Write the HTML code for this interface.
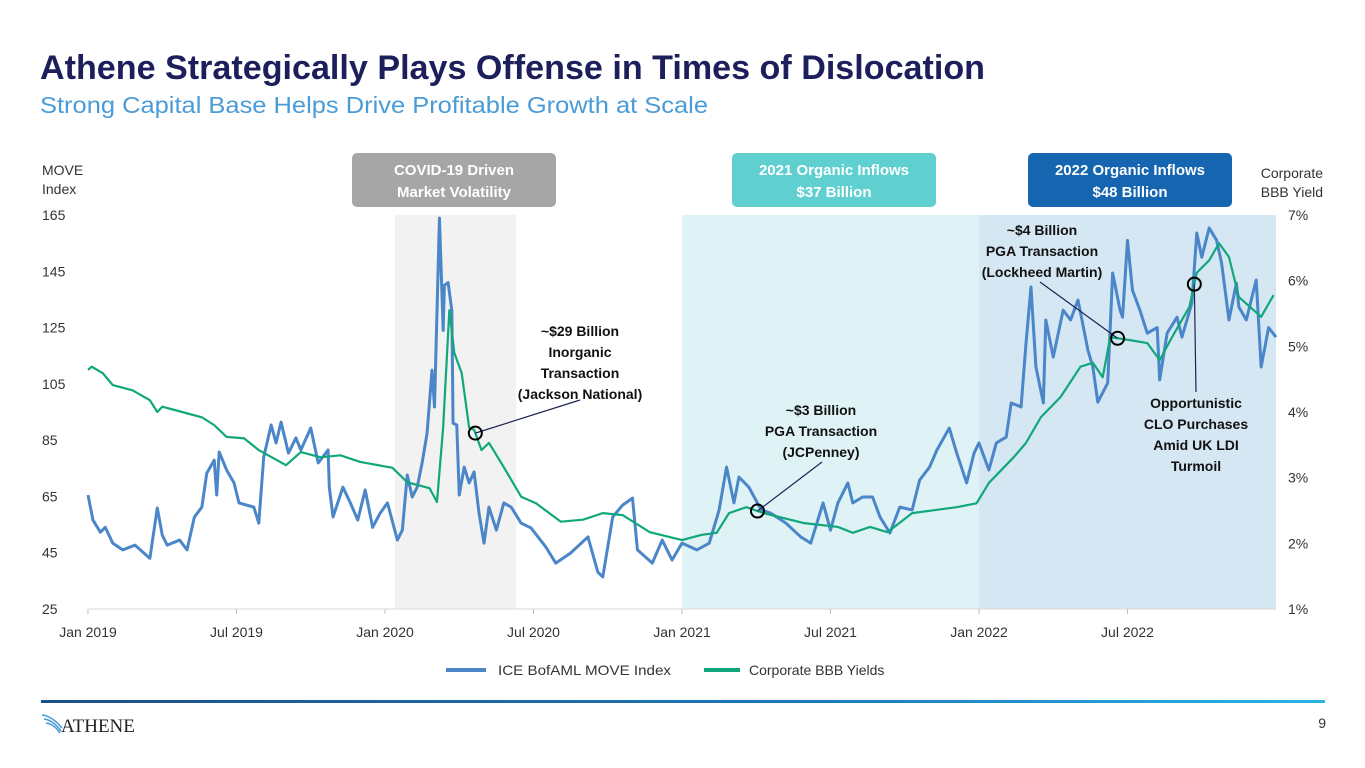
<!DOCTYPE html>
<html><head><meta charset="utf-8"><style>
html,body{margin:0;padding:0;background:#fff;width:1365px;height:768px;overflow:hidden;font-family:"Liberation Sans",sans-serif}
svg text{font-family:"Liberation Sans",sans-serif}
</style></head><body>
<svg id="chart" width="1365" height="768" viewBox="0 0 1365 768" xmlns="http://www.w3.org/2000/svg">
<defs><linearGradient id="fg" x1="0" x2="1"><stop offset="0" stop-color="#1b4f8a"/><stop offset="0.6" stop-color="#1f78b8"/><stop offset="1" stop-color="#2bb3e6"/></linearGradient></defs>
<text x="40" y="79" font-size="34" font-weight="bold" fill="#1c1f5c" textLength="945" lengthAdjust="spacingAndGlyphs">Athene Strategically Plays Offense in Times of Dislocation</text>
<text x="40" y="113" font-size="23" fill="#4a9bd6" textLength="668" lengthAdjust="spacingAndGlyphs">Strong Capital Base Helps Drive Profitable Growth at Scale</text>
<g id="bands"></g>
<g><rect x="352" y="153" width="204" height="54" rx="5" fill="#a6a6a6"/><text x="454" y="175" font-size="15" font-weight="bold" fill="#fff" text-anchor="middle">COVID-19 Driven</text><text x="454" y="197" font-size="15" font-weight="bold" fill="#fff" text-anchor="middle">Market Volatility</text></g>
<g><rect x="732" y="153" width="204" height="54" rx="5" fill="#5fcfd0"/><text x="834" y="175" font-size="15" font-weight="bold" fill="#fff" text-anchor="middle">2021 Organic Inflows</text><text x="834" y="197" font-size="15" font-weight="bold" fill="#fff" text-anchor="middle">$37 Billion</text></g>
<g><rect x="1028" y="153" width="204" height="54" rx="5" fill="#1565b0"/><text x="1130" y="175" font-size="15" font-weight="bold" fill="#fff" text-anchor="middle">2022 Organic Inflows</text><text x="1130" y="197" font-size="15" font-weight="bold" fill="#fff" text-anchor="middle">$48 Billion</text></g>
<text x="42" y="175" font-size="14" fill="#333">MOVE</text>
<text x="42" y="194" font-size="14" fill="#333">Index</text>
<text x="1323" y="178" font-size="14" fill="#333" text-anchor="end">Corporate</text>
<text x="1323" y="197" font-size="14" fill="#333" text-anchor="end">BBB Yield</text>
<g id="axes"></g>
<g id="series"></g>
<g id="annots"></g>
<g>
<line x1="446" y1="670" x2="486" y2="670" stroke="#4a86c8" stroke-width="4"/><text x="498" y="675" font-size="14" fill="#333" textLength="173" lengthAdjust="spacingAndGlyphs">ICE BofAML MOVE Index</text>
<line x1="704" y1="670" x2="740" y2="670" stroke="#10a77a" stroke-width="4"/><text x="749" y="675" font-size="14" fill="#333">Corporate BBB Yields</text></g>
<rect x="41" y="700" width="1284" height="3" fill="url(#fg)"/>
<g>
<path d="M42 715 Q52 716 62 728 M44 719 Q53 720 61 731 M46 723 Q54 724 60 733" stroke="#4a9bd6" stroke-width="1.6" fill="none"/>
<text x="61" y="732" font-size="19" fill="#222" font-family="Liberation Serif" style="font-family:'Liberation Serif',serif">ATHENE</text></g>
<text x="1326" y="728" font-size="14" fill="#333" text-anchor="end">9</text>
</svg>
<script>
const dateMonths = [0,0.2,0.5,0.7,1.0,1.4,1.7,1.9,2.5,2.8,3.0,3.2,3.7,4.0,4.3,4.6,4.8,5.1,5.2,5.3,5.6,5.9,6.1,6.7,6.9,7.1,7.4,7.6,7.8,8.1,8.4,8.6,9.0,9.3,9.7,9.75,9.9,10.3,10.6,10.9,11.2,11.5,11.8,12.1,12.5,12.7,12.9,13.1,13.3,13.5,13.7,13.9,14.0,14.2,14.35,14.4,14.55,14.7,14.75,14.9,15.0,15.2,15.4,15.6,15.8,16.0,16.2,16.5,16.8,17.1,17.5,17.9,18.5,18.9,19.5,20.2,20.6,20.8,21.2,21.6,22.0,22.2,22.8,23.2,23.6,24.0,24.6,25.1,25.5,25.8,26.1,26.3,26.7,27.2,27.6,28.2,28.8,29.2,29.7,30.0,30.3,30.7,30.9,31.3,31.7,32.0,32.4,32.8,33.3,33.6,34.0,34.3,34.8,35.1,35.5,35.8,36.0,36.4,36.7,37.1,37.3,37.7,37.9,38.1,38.3,38.6,38.7,39.0,39.4,39.7,40.0,40.4,40.6,40.8,41.2,41.4,41.7,41.8,42.0,42.2,42.5,42.8,43.2,43.3,43.6,44.0,44.2,44.6,44.8,45.0,45.3,45.6,45.8,46.1,46.4,46.5,46.8,47.2,47.4,47.7,48.0];
const moveValues = [65.5,56.6,52.3,54,48.4,46,47,47.7,43,60.9,51.3,47.7,49.5,46,57.7,61.2,73.3,77.9,65.5,80.8,74.4,69.8,62.7,61.2,55.5,79,90.4,84,91.4,80.4,85.8,81.5,89.3,76.9,81.5,68.3,57.7,68.3,62.7,56.6,67.3,54,59,62.7,49.5,53,72.6,64.8,68.3,76.9,87.5,109.9,96.8,163.9,124,140,141,131,91,90.4,65.5,75.4,69.8,73.7,59,48.4,61.2,53,62.7,61.2,55.5,53.8,47,41.3,44.9,50.6,38.1,36.4,57.7,61.9,64.4,46,41.3,49.5,42.4,48.4,46,48.4,60.2,75.4,62.7,71.9,68.3,60.2,59,55.5,50.6,48.4,62.7,53,62.7,69.8,62.7,64.8,64.8,57.7,52,61.2,60.2,70.8,75.4,81.5,89.3,80.4,69.8,80.4,84,74.4,84,86.1,98.2,96.8,119.5,139.4,111,98.2,127.7,114.5,131.2,127.7,134.8,117,111,98.5,105.3,144.4,131.2,128.7,156,138.3,131.2,123,125,106.4,123,128.7,121.6,133.7,158.6,150,160.4,156,148,127.7,140.8,132.3,127.7,141.9,111,125,121.6];
const bbbMonths = [0,0.15,0.6,1.0,1.8,2.5,2.8,3.0,3.8,4.6,5.1,5.6,6.3,6.9,8.0,8.6,9.4,10.2,11.0,12.3,12.9,13.8,14.1,14.35,14.6,14.8,15.1,15.4,15.6,15.9,16.2,16.8,17.5,18.1,19.1,20.0,20.8,21.6,22.7,24.0,24.8,25.4,25.9,26.6,27.3,28.9,30.3,30.9,31.6,32.3,33.3,34.3,35.1,35.9,36.4,37.4,37.9,38.5,39.3,40.1,40.6,41.0,41.3,42.0,42.8,43.3,43.8,44.5,44.8,45.3,45.7,46.1,46.5,47.4,47.9];
const bbbValues = [4.64,4.69,4.59,4.41,4.33,4.18,4.0,4.08,4.0,3.92,3.8,3.62,3.6,3.42,3.19,3.39,3.31,3.34,3.24,3.15,2.93,2.84,2.63,3.77,5.55,4.9,4.59,3.76,3.73,3.42,3.53,3.16,2.71,2.61,2.33,2.36,2.46,2.43,2.17,2.05,2.13,2.16,2.46,2.55,2.46,2.31,2.25,2.16,2.25,2.17,2.46,2.51,2.55,2.61,2.92,3.31,3.53,3.92,4.23,4.69,4.75,4.53,5.14,5.1,5.05,4.79,5.14,5.6,6.12,6.31,6.57,6.36,5.75,5.45,5.78];
const leftTicks = [25,45,65,85,105,125,145,165];
const rightTicks = [1,2,3,4,5,6,7];
const xTickLabels = ["Jan 2019","Jul 2019","Jan 2020","Jul 2020","Jan 2021","Jul 2021","Jan 2022","Jul 2022"];
const xTickMonths = [0,6,12,18,24,30,36,42];
const bandStart = [12.4,24,36];
const bandEnd = [17.3,36,48];
const annotMonths = [15.65,27.05,41.6,44.7];

const NS="http://www.w3.org/2000/svg";
const X0=88,X1=1276,YT=215,YB=609;
const xS=m=>X0+(X1-X0)*m/48;
const yL=v=>YB-(v-25)/(165-25)*(YB-YT);
const yR=v=>YB-(v-1)/(7-1)*(YB-YT);
function mk(tag,attrs,parent,txt){const e=document.createElementNS(NS,tag);for(const k in attrs)e.setAttribute(k,attrs[k]);if(txt!==undefined)e.textContent=txt;parent.appendChild(e);return e;}
function interp(ms,vs,m){for(let i=1;i<ms.length;i++){if(m<=ms[i]){const t=(m-ms[i-1])/(ms[i]-ms[i-1]);return vs[i-1]+t*(vs[i]-vs[i-1]);}}return vs[vs.length-1];}

const bands=document.getElementById('bands');
const bandColors=["#f2f2f2","#dff3f6","#d6e7f4"];
const bandNames=["band-covid","band-2021","band-2022"];
bandStart.forEach((s,i)=>{const r=mk('rect',{x:xS(s),y:YT,width:xS(bandEnd[i])-xS(s),height:YB-YT,fill:bandColors[i]},bands);

});

const axes=document.getElementById('axes');
const base=mk('line',{x1:X0,y1:YB,x2:X1,y2:YB,stroke:"#d9d9d9","stroke-width":1},axes);


leftTicks.forEach(v=>{const t=mk('text',{x:42,y:yL(v)+5,"font-size":14,fill:"#333"},axes,String(v));

});
rightTicks.forEach(v=>{const t=mk('text',{x:1288,y:yR(v)+5,"font-size":14,fill:"#333"},axes,v+"%");

});
xTickLabels.forEach((l,i)=>{const x=xS(xTickMonths[i]);mk('line',{x1:x,y1:YB,x2:x,y2:YB+5,stroke:"#bfbfbf"},axes);
const t=mk('text',{x:x,y:637,"font-size":14,fill:"#333","text-anchor":"middle"},axes,l);

});

const series=document.getElementById('series');
const pm=mk('polyline',{points:dateMonths.map((m,i)=>xS(m)+","+yL(moveValues[i])).join(" "),fill:"none",stroke:"#4a86c8","stroke-width":3,"stroke-linejoin":"round"},series);


const pb=mk('polyline',{points:bbbMonths.map((m,i)=>xS(m)+","+yR(bbbValues[i])).join(" "),fill:"none",stroke:"#10a77a","stroke-width":2.2,"stroke-linejoin":"round"},series);



const an=document.getElementById('annots');
const labels=[
 {lines:["~$29 Billion","Inorganic","Transaction","(Jackson National)"],x:580,y:336,lx:580,ly:400},
 {lines:["~$3 Billion","PGA Transaction","(JCPenney)"],x:821,y:415,lx:822,ly:462},
 {lines:["~$4 Billion","PGA Transaction","(Lockheed Martin)"],x:1042,y:235,lx:1040,ly:282},
 {lines:["Opportunistic","CLO Purchases","Amid UK LDI","Turmoil"],x:1196,y:408,lx:1196,ly:392}];
const anNames=["annotation-jackson","annotation-jcpenney","annotation-lockheed","annotation-clo"];
annotMonths.forEach((m,i)=>{const cx=xS(m),cy=yR(interp(bbbMonths,bbbValues,m));
const g=mk('g',{},an);


const L=labels[i];
mk('line',{x1:cx,y1:cy,x2:L.lx,y2:L.ly,stroke:"#1c2455","stroke-width":1.2},g);
mk('circle',{cx:cx,cy:cy,r:6.5,fill:"none",stroke:"#000","stroke-width":2},g);
L.lines.forEach((s,j)=>mk('text',{x:L.x,y:L.y+j*21,"font-size":14,"font-weight":"bold",fill:"#111","text-anchor":"middle"},g,s));});
</script>
</body></html>
